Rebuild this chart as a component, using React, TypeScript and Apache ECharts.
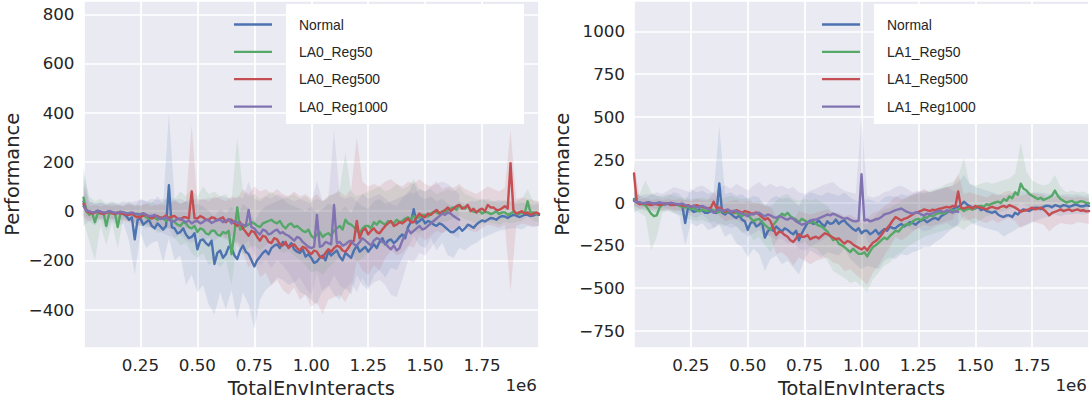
import { useEffect, useRef } from 'react';
import * as echarts from 'echarts';

// x sampling grids (TotalEnvInteracts)
const X_FINE: number[] = Array.from({ length: 161 }, (_, i) => i * 12500); // mean lines
const X_GRID: number[] = Array.from({ length: 81 }, (_, i) => i * 25000); // shaded bands

const X_TICK_STEP = 250000;
const LEFT_Y_STEP = 200;
const RIGHT_Y_STEP = 250;

const LEFT_NAMES = ['Normal', 'LA0_Reg50', 'LA0_Reg500', 'LA0_Reg1000'];
const RIGHT_NAMES = ['Normal', 'LA1_Reg50', 'LA1_Reg500', 'LA1_Reg1000'];

// ---------- Left panel: mean lines ----------
const L_NORMAL = [
  40, 5, -2, -8, -5, 2, -3, -10, -6, 0,
  -4, -12, -8, -3, -12, -20, -35, -25, -115, -35,
  -30, -55, -45, -35, -60, -70, -50, -62, -75, -60,
  105, -65, -70, -90, -85, -70, -95, -110, -105, -90,
  -155, -120, -115, -130, -140, -120, -215, -170, -160, -190,
  -175, -145, -150, -180, -195, -160, -140, -165, -175, -200,
  -225, -200, -185, -170, -160, -175, -150, -140, -135, -150,
  -125, -135, -145, -130, -155, -165, -170, -155, -185, -175,
  -190, -210, -205, -190, -180, -200, -165, -180, -170, -160,
  -185, -200, -170, -180, -190, -160, -140, -165, -155, -145,
  -165, -150, -135, -150, -125, -110, -135, -120, -115, -130,
  -120, -105, -95, -110, -65, -45, 8, -50, -40, -30,
  -50, -40, -45, -55, -60, -50, -55, -65, -75, -85,
  -85, -75, -65, -80, -70, -55, -60, -68, -55, -45,
  -38, -42, -35, -28, -30, -35, -25, -20, -22, -28,
  -20, -15, -18, -24, -20, -14, -15, -20, -18, -12,
  -15,
];
const L_REG50 = [
  55, 0, -15, -5, -45, -8, -10, -5, -60, -10,
  -8, -5, -65, -8, -5, -8, -10, -12, -15, -10,
  -20, -15, -25, -30, -20, -28, -35, -25, -30, -40,
  -25, -35, -45, -55, -60, -45, -50, -65, -70, -60,
  -85, -70, -75, -90, -95, -80, -80, -95, -100, -85,
  -90, -80, -175, -90, 15, -75, -70, -60, -55, -45,
  -50, -60, -65, -50, -45, -40, -35, -45, -50, -40,
  -60, -70, -55, -50, -65, -60, -70, -80, -85, -75,
  -100, -110, -95, -85, -105, -95, -90, -100, -80, -70,
  -60, -75, -35, -50, -55, -65, -80, -90, -70, -60,
  -60, -70, -45, -55, -40, -48, -55, -40, -45, -50,
  -35, -45, -40, -30, -25, -35, -20, -28, -25, -15,
  -15, -22, -10, -2, -5, -12, 0, -5, 5, 10,
  15, 5, 25, 15, 10, 20, 5, -2, -5, 2,
  -10, -3, -5, -12, -8, 0, -12, -5, -5, -15,
  -10, -3, -8, -12, -5, -8, 40, -5, -5, -12,
  -10,
];
const L_REG500 = [
  30, 0, -5, -10, -5, -2, -8, -12, -6, -3,
  -8, -12, -5, -10, -10, -15, -15, -10, -20, -25,
  -25, -18, -15, -22, -30, -20, -20, -28, -25, -18,
  -30, -22, -20, -30, -35, -25, -25, -30, 80, -28,
  -30, -20, -25, -35, -35, -25, -28, -38, -30, -25,
  -45, -35, -35, -50, -60, -45, -70, -85, -100, -80,
  -85, -105, -120, -100, -105, -125, -130, -110, -115, -135,
  -140, -125, -150, -140, -135, -150, -160, -145, -150, -165,
  -175, -160, -165, -185, -190, -170, -155, -165, -150, -140,
  -145, -160, -165, -150, -130, -120, -40, -110, -80, -70,
  -95, -80, -70, -85, -90, -75, -60, -50, -40, -60,
  -55, -45, -50, -40, -30, -45, -45, -25, -10, -20,
  -25, -10, -15, -5, 5, -8, -5, 5, 15, 0,
  10, 20, 25, 10, 15, 25, 0, 10, -5, 5,
  10, 0, 25, 15, 15, 5, 5, 12, 20, 10,
  195, 5, -10, -5, 0, -10, -5, -15, -10, -5,
  -12,
];
const L_REG1000 = [
  20, 2, 0, -5, -3, 0, -2, -6, -4, -1,
  -3, -7, -6, -2, -5, -9, -8, -5, -10, -14,
  -12, -8, -15, -20, -20, -15, -25, -32, -30, -25,
  -35, -42, -40, -32, -30, -38, -45, -38, -50, -42,
  -40, -50, -45, -35, -38, -48, -42, -35, -35, -45,
  -40, -32, -50, -40, -45, -52, -55, -60, 5, -65,
  -70, -85, -95, -75, -80, -95, -90, -80, -75, -90,
  -85, -95, -100, -110, -120, -105, -110, -125, -135, -145,
  -150, -145, -15, -145, -140, -125, -130, -135, 25, -130,
  -125, -140, -135, -125, -120, -135, -140, -125, -110, -120,
  -130, -140, -120, -110, -115, -125, -130, -145, -155, -140,
  -160, -150, -120, -95, -75, -90, -80, -70, -60, -75,
  -70, -60, -50, -40, -30, -20, -10, -15, -5, -10,
  -20, -28, -35,
];

// ---------- Left panel: bands (lower / upper) ----------
const L_NORMAL_LO = [
  -60, -40, -60, -30, -80, -40, -60, -50, -120, -260,
  -90, -150, -130, -120, -210, -110, -200, -180, -300, -260,
  -330, -300, -380, -420, -330, -400, -320, -440, -330, -380,
  -480, -360, -320, -300, -270, -280, -300, -290, -330, -340,
  -360, -380, -320, -300, -340, -360, -310, -340, -260, -300,
  -320, -260, -240, -270, -230, -240, -190, -150, -100, -140,
  -150, -110, -160, -130, -180, -190, -150, -160, -140, -130,
  -110, -100, -90, -80, -75, -70, -70, -75, -60, -65,
  -60,
];
const L_NORMAL_HI = [
  180, 40, 30, 35, 25, 30, 25, 20, 40, 20,
  50, 40, 30, 60, 30, 400, 50, 30, 40, 20,
  30, 20, 0, -20, 10, -10, 20, -20, 30, 10,
  -40, 0, 20, 30, 40, 50, 30, 20, 10, 0,
  20, -10, 10, 30, 20, 0, 20, -10, 40, 20,
  10, 40, 50, 30, 40, 50, 60, 70, 120, 60,
  50, 60, 40, 50, 30, 20, 40, 30, 40, 40,
  50, 40, 40, 45, 40, 35, 30, 35, 30, 25,
  30,
];
const L_REG50_LO = [
  -40, -120, -200, -60, -140, -50, -150, -30, -40, -50,
  -60, -70, -60, -90, -80, -70, -110, -140, -130, -170,
  -190, -170, -220, -200, -230, -200, -300, -120, -180, -150,
  -140, -160, -140, -120, -150, -170, -160, -180, -200, -220,
  -250, -240, -260, -230, -210, -180, -140, -170, -210, -190,
  -170, -140, -130, -150, -130, -110, -120, -90, -80, -90,
  -70, -60, -50, -45, -40, -30, -20, -35, -40, -50,
  -55, -45, -50, -55, -45, -50, -45, -40, -20, -40,
  -45,
];
const L_REG50_HI = [
  150, 60, 40, 50, 30, 40, 30, 30, 25, 30,
  20, 30, 40, 20, 40, 60, 50, 80, 60, 90,
  60, 100, 70, 80, 60, 70, 40, 300, 80, 60,
  70, 50, 60, 80, 60, 50, 60, 70, 50, 60,
  40, 50, 40, 60, 70, 90, 240, 80, 60, 70,
  80, 90, 100, 80, 90, 110, 90, 100, 130, 90,
  80, 90, 70, 80, 90, 80, 100, 70, 60, 50,
  45, 50, 40, 35, 45, 40, 40, 50, 90, 40,
  35,
];
const L_REG500_LO = [
  -30, -40, -30, -35, -30, -35, -30, -40, -45, -50,
  -60, -50, -70, -60, -65, -70, -60, -80, -70, -60,
  -80, -70, -90, -80, -90, -110, -100, -140, -170, -230,
  -200, -270, -250, -300, -280, -320, -340, -310, -360, -340,
  -390, -370, -420, -360, -350, -340, -370, -320, -200, -240,
  -260, -220, -240, -190, -160, -180, -170, -140, -150, -100,
  -120, -100, -80, -90, -70, -75, -60, -70, -80, -85,
  -70, -55, -60, -70, -55, -330, -60, -50, -55, -60,
  -60,
];
const L_REG500_HI = [
  100, 20, 25, 20, 25, 20, 25, 20, 30, 20,
  25, 30, 20, 30, 25, 30, 40, 30, 40, 350,
  40, 50, 40, 60, 50, 40, 60, 50, 90, 70,
  100, 80, 90, 70, 90, 70, 60, 80, 60, 70,
  50, 70, 40, 60, 70, 80, 60, 90, 300, 120,
  100, 110, 100, 120, 130, 110, 100, 120, 110, 130,
  110, 100, 120, 90, 100, 95, 110, 90, 80, 70,
  85, 100, 90, 80, 95, 330, 50, 55, 50, 45,
  40,
];
const L_REG1000_LO = [
  -20, -30, -25, -30, -25, -30, -35, -30, -40, -45,
  -50, -60, -70, -80, -90, -100, -110, -95, -120, -130,
  -115, -120, -110, -120, -105, -115, -130, -125, -140, -120,
  -170, -220, -200, -230, -200, -220, -250, -290, -270, -310,
  -340, -250, -330, -310, -260, -300, -320, -290, -330, -270,
  -310, -290, -280, -300, -340, -350, -280, -200, -210, -170,
  -180, -150, -120, -90, -80, -100, -110,
];
const L_REG1000_HI = [
  120, 40, 30, 35, 30, 35, 30, 40, 35, 40,
  45, 40, 50, 45, 50, 40, 45, 50, 40, 45,
  50, 45, 55, 50, 60, 55, 50, 60, 50, 120,
  50, 40, 60, 50, 70, 60, 50, 40, 50, 40,
  30, 120, 40, 50, 330, 60, 50, 60, 40, 70,
  50, 60, 70, 50, 30, 20, 50, 80, 70, 90,
  80, 100, 110, 120, 110, 90, 70,
];

// ---------- Right panel: mean lines ----------
const R_NORMAL = [
  20, 3, 0, -6, -3, 2, -5, -10, -4, 0,
  -6, -12, -5, -2, -8, -12, -15, -20, -120, -30,
  -40, -55, -50, -40, -45, -60, -60, -50, -55, -62,
  112, -60, -70, -55, -65, -80, -90, -75, -100, -110,
  -160, -120, -110, -140, -130, -110, -205, -170, -150, -165,
  -140, -155, -170, -150, -160, -175, -185, -165, -220, -180,
  -150, -120, -105, -125, -120, -105, -125, -140, -110, -125,
  -120, -100, -125, -110, -105, -125, -140, -155, -165, -150,
  -180, -165, -165, -185, -175, -160, -185, -170, -155, -165,
  -140, -150, -150, -135, -125, -140, -130, -115, -120, -130,
  -115, -105, -100, -115, -105, -95, -90, -100, -80, -70,
  -60, -50, -40, -30, -25, -15, 5, -10, -20, -30,
  -35, -25, -45, -38, -50, -55, -60, -52, -70, -80,
  -85, -75, -75, -85, -60, -70, -50, -40, -45, -50,
  -40, -30, -30, -38, -25, -18, -20, -28, -15, -20,
  -25, -15, -18, -25, -20, -12, -15, -22, -22, -15,
  -20,
];
const R_REG50 = [
  15, 0, -5, -10, -15, -40, -65, -80, -75, -30,
  -10, -5, -8, -15, -12, -8, -20, -25, -30, -22,
  -40, -32, -45, -52, -40, -48, -50, -40, -45, -55,
  -55, -48, -60, -52, -50, -62, -60, -70, -80, -65,
  -70, -90, -110, -100, -95, -115, -130, -145, -160, -130,
  -110, -85, -65, -75, -60, -80, -90, -100, -115, -95,
  -105, -115, -120, -110, -125, -135, -140, -155, -170, -195,
  -220, -210, -240, -250, -260, -275, -290, -270, -285, -300,
  -300, -290, -315, -285, -260, -250, -235, -220, -205, -215,
  -195, -180, -165, -170, -150, -135, -125, -130, -110, -100,
  -95, -105, -85, -90, -75, -80, -70, -62, -60, -65,
  -55, -48, -45, -52, -40, -35, -50, -40, -35, -42,
  -30, -22, -20, -25, -10, -15, -5, 0, 5, -3,
  20, 10, 35, 25, 60, 45, 110, 80, 70, 50,
  40, 30, 20, 28, 15, 22, 30, 40, 70, 40,
  20, 10, 0, 5, 10, -2, 0, 8, 5, -2,
  -5,
];
const R_REG500 = [
  170, 0, -10, -5, -5, -12, -15, -8, -10, -15,
  -12, -6, -8, -14, -15, -10, -10, -18, -20, -15,
  -25, -20, -15, -22, -25, -30, -35, -30, 5, -32,
  -30, -40, -55, -45, -50, -58, -45, -52, -60, -50,
  -55, -62, -65, -58, -70, -85, -100, -90, -110, -150,
  -190, -170, -175, -190, -200, -220, -230, -210, -185, -200,
  -200, -190, -215, -205, -200, -210, -195, -180, -185, -195,
  -205, -215, -210, -225, -240, -225, -230, -245, -255, -265,
  -275, -260, -280, -255, -235, -225, -210, -190, -165, -150,
  -130, -105, -85, -95, -105, -95, -90, -80, -70, -60,
  -55, -48, -40, -45, -50, -42, -45, -38, -35, -30,
  -25, -30, -20, -25, 65, -30, -35, -28, -25, -35,
  -20, -28, -30, -35, -40, -30, -25, -32, -35, -25,
  -20, -28, -15, -22, -30, -40, -55, -48, -45, -38,
  -30, -40, -35, -30, -40, -55, -75, -60, -55, -48,
  -40, -50, -45, -40, -50, -45, -40, -48, -45, -52,
  -50,
];
const R_REG1000 = [
  10, 2, 0, -4, -3, 1, -2, -6, -5, -1,
  -3, -7, -6, -2, -5, -9, -10, -6, -15, -20,
  -25, -18, -30, -25, -20, -28, -35, -45, -60, -50,
  -40, -48, -45, -40, -55, -48, -50, -58, -65, -72,
  -80, -68, -70, -62, -60, -72, -80, -70, -75, -85,
  -90, -80, -85, -95, -100, -90, -95, -110, -120, -130,
  -125, -115, -110, -100, -100, -92, -85, -78, -70, -75,
  -65, -72, -80, -88, -95, -90, -100, -108, -110, -105,
  165, -105, -100, -110, -105, -98, -95, -85, -70, -65,
  -60, -52, -45, -40, -35, -45, -55, -60, -65, -58,
  -60, -70, -75, -65, -70, -62, -55, -50, -50, -55,
  -45, -52, -60, -50, -55,
];

// ---------- Right panel: bands (lower / upper) ----------
const R_NORMAL_LO = [
  -60, -40, -50, -45, -60, -50, -45, -60, -80, -250,
  -120, -140, -120, -160, -150, -130, -200, -180, -240, -260,
  -320, -270, -300, -400, -330, -310, -360, -340, -380, -420,
  -330, -280, -300, -320, -290, -300, -310, -270, -330, -360,
  -390, -370, -380, -390, -340, -320, -330, -300, -310, -290,
  -280, -260, -260, -230, -210, -180, -150, -130, -80, -110,
  -130, -140, -150, -160, -170, -200, -180, -160, -140, -130,
  -120, -100, -90, -80, -70, -80, -70, -70, -65, -70,
  -65,
];
const R_NORMAL_HI = [
  60, 40, 30, 50, 40, 30, 40, 60, 50, 10,
  80, 60, 70, 50, 60, 450, 50, 60, 40, 50,
  20, 40, 30, -20, 20, 40, 20, 30, 10, -20,
  40, 60, 50, 40, 60, 50, 40, 60, 30, 10,
  0, 20, 10, 0, 30, 40, 30, 50, 40, 50,
  60, 70, 60, 70, 80, 90, 100, 120, 160, 110,
  90, 80, 70, 60, 50, 40, 50, 60, 70, 60,
  55, 60, 55, 50, 55, 45, 50, 45, 50, 40,
  45,
];
const R_REG50_LO = [
  -40, -60, -80, -280, -200, -60, -50, -60, -70, -90,
  -100, -110, -100, -120, -110, -130, -140, -120, -140, -180,
  -160, -220, -200, -250, -290, -230, -160, -150, -200, -240,
  -230, -260, -270, -300, -340, -400, -420, -440, -470, -460,
  -490, -520, -450, -410, -370, -350, -310, -290, -260, -240,
  -220, -200, -190, -180, -170, -160, -150, -140, -160, -130,
  -120, -100, -80, -70, -60, -50, -40, -30, 0, -20,
  -40, -50, -50, -40, -20, -40, -50, -45, -50, -45,
  -55,
];
const R_REG50_HI = [
  80, 50, 130, 60, 40, 40, 50, 40, 30, 30,
  20, 25, 30, 20, 25, 20, 30, 40, 30, 20,
  30, 0, 10, -10, -30, 10, 40, 50, 20, 10,
  20, 10, 20, 0, -20, -60, -70, -90, -110, -100,
  -120, -130, -90, -60, -40, -30, -10, 10, 30, 40,
  50, 60, 70, 80, 90, 110, 120, 150, 260, 110,
  100, 110, 120, 110, 120, 130, 140, 170, 350, 180,
  130, 110, 100, 110, 160, 90, 60, 70, 60, 65,
  50,
];
const R_REG500_LO = [
  -20, -40, -35, -45, -40, -45, -40, -50, -45, -55,
  -60, -50, -60, -70, -40, -80, -110, -100, -100, -120,
  -110, -130, -140, -180, -200, -300, -290, -320, -370, -320,
  -340, -360, -340, -330, -320, -350, -360, -400, -390, -420,
  -450, -480, -410, -370, -310, -260, -200, -220, -200, -170,
  -150, -130, -140, -130, -120, -110, -100, -40, -110, -100,
  -90, -110, -120, -100, -120, -100, -90, -110, -150, -130,
  -110, -120, -130, -170, -140, -120, -125, -130, -115, -120,
  -125,
];
const R_REG500_HI = [
  240, 20, 25, 15, 20, 15, 20, 15, 20, 15,
  10, 20, 15, 10, 60, 20, 0, 10, 15, 0,
  10, 0, -5, -20, -20, -80, -60, -80, -100, -50,
  -60, -70, -60, -50, -40, -60, -60, -80, -70, -90,
  -100, -90, -60, -50, -20, 0, 40, 20, 30, 50,
  60, 80, 60, 70, 80, 90, 100, 170, 50, 60,
  50, 40, 30, 50, 40, 60, 70, 50, 40, 50,
  60, 50, 45, 20, 35, 40, 35, 30, 35, 30,
  25,
];
const R_REG1000_LO = [
  -20, -30, -25, -30, -35, -30, -35, -40, -50, -60,
  -80, -90, -70, -100, -150, -120, -130, -150, -140, -170,
  -200, -180, -160, -200, -190, -220, -210, -240, -230, -270,
  -280, -260, -240, -220, -200, -190, -210, -230, -240, -250,
  -100, -230, -240, -220, -180, -160, -130, -120, -140, -160,
  -150, -170, -160, -140, -130, -120, -140, -130,
];
const R_REG1000_HI = [
  60, 40, 50, 45, 60, 50, 70, 90, 80, 70,
  60, 90, 100, 80, 50, 90, 100, 80, 110, 90,
  70, 100, 120, 90, 110, 90, 100, 80, 90, 60,
  50, 70, 80, 100, 110, 120, 90, 70, 60, 50,
  500, 40, 30, 40, 60, 70, 90, 100, 80, 60,
  70, 50, 60, 70, 80, 90, 70, 60,
];

const COLORS = ['#4C72B0', '#55A868', '#C44E52', '#8172B2'];
const TEXT_COLOR = '#262626';
const TICK_FONT = 'DejaVu Sans';

const LEFT_SETS = [
  { mean: L_NORMAL, lo: L_NORMAL_LO, hi: L_NORMAL_HI },
  { mean: L_REG50, lo: L_REG50_LO, hi: L_REG50_HI },
  { mean: L_REG500, lo: L_REG500_LO, hi: L_REG500_HI },
  { mean: L_REG1000, lo: L_REG1000_LO, hi: L_REG1000_HI },
];
const RIGHT_SETS = [
  { mean: R_NORMAL, lo: R_NORMAL_LO, hi: R_NORMAL_HI },
  { mean: R_REG50, lo: R_REG50_LO, hi: R_REG50_HI },
  { mean: R_REG500, lo: R_REG500_LO, hi: R_REG500_HI },
  { mean: R_REG1000, lo: R_REG1000_LO, hi: R_REG1000_HI },
];

function fmtNum(v: number): string {
  return v < 0 ? '\u2212' + Math.abs(v) : String(v);
}

function buildBand(gi: number, lo: number[], hi: number[], color: string, name: string) {
  return {
    type: 'custom',
    name: name + ' band',
    xAxisIndex: gi,
    yAxisIndex: gi,
    silent: true,
    clip: true,
    z: 1,
    data: [[X_GRID[0], lo[0]]],
    renderItem: (_params: any, api: any) => {
      const pts: number[][] = [];
      for (let i = 0; i < hi.length; i++) pts.push(api.coord([X_GRID[i], hi[i]]));
      for (let i = lo.length - 1; i >= 0; i--) pts.push(api.coord([X_GRID[i], lo[i]]));
      return {
        type: 'polygon',
        shape: { points: pts },
        style: { fill: color, opacity: 0.13, stroke: 'none' },
      };
    },
  };
}

function buildLine(gi: number, mean: number[], color: string, name: string) {
  return {
    type: 'line',
    name,
    xAxisIndex: gi,
    yAxisIndex: gi,
    data: mean.map((v, i) => [X_FINE[i], v]),
    showSymbol: false,
    symbol: 'none',
    silent: true,
    clip: true,
    z: 3,
    itemStyle: { color },
    lineStyle: { color, width: 2.4, cap: 'round', join: 'round' },
  };
}

function legendGraphics(boxX: number, lineX1: number, lineX2: number, textX: number, names: string[]) {
  const rows = [24.5, 51.8, 79.2, 106.6];
  const els: any[] = [
    {
      type: 'rect',
      z: 100,
      shape: { x: boxX, y: 4, width: 238, height: 120 },
      style: { fill: '#FFFFFF', stroke: 'none' },
    },
  ];
  names.forEach((n, i) => {
    els.push({
      type: 'line',
      z: 101,
      shape: { x1: lineX1, y1: rows[i], x2: lineX2, y2: rows[i] },
      style: { stroke: COLORS[i], lineWidth: 2.3 },
    });
    els.push({
      type: 'text',
      z: 101,
      style: {
        text: n,
        x: textX,
        y: rows[i],
        fill: TEXT_COLOR,
        font: '13.9px "Liberation Sans", Arial, sans-serif',
        textAlign: 'left',
        align: 'left',
        textVerticalAlign: 'middle',
        verticalAlign: 'middle',
      },
    });
  });
  return els;
}

function exponentText(x: number) {
  return {
    type: 'text',
    z: 100,
    style: {
      text: '1e6',
      x,
      y: 384.5,
      fill: TEXT_COLOR,
      font: '16.7px "DejaVu Sans"',
      textAlign: 'right',
      align: 'right',
      textVerticalAlign: 'middle',
      verticalAlign: 'middle',
    },
  };
}

function buildOption() {
  const grids = [
    { left: 83.5, top: 1, width: 455.5, height: 346.7 },
    { left: 634, top: 1, width: 455, height: 346.7 },
  ].map((g) => ({
    ...g,
    show: true,
    backgroundColor: '#EAEAF2',
    borderWidth: 0,
    containLabel: false,
    outerBoundsMode: 'none',
  }));

  const splitLine = { show: true, lineStyle: { color: '#FFFFFF', width: 1.7 } };

  const xAxes = [0, 1].map((gi) => ({
    type: 'value',
    gridIndex: gi,
    min: 0,
    max: 2000000,
    minInterval: X_TICK_STEP,
    maxInterval: X_TICK_STEP,
    axisLine: { show: false },
    axisTick: { show: false },
    splitLine,
    axisLabel: {
      margin: 9,
      fontFamily: TICK_FONT,
      fontSize: 16.7,
      color: TEXT_COLOR,
      formatter: (v: number) =>
        v <= 0 || v >= 2000000 || v % X_TICK_STEP !== 0 ? '' : (v / 1e6).toFixed(2),
    },
    name: 'TotalEnvInteracts',
    nameLocation: 'middle',
    nameGap: 30,
    nameTextStyle: { fontFamily: TICK_FONT, fontSize: 19.4, color: TEXT_COLOR },
  }));

  const yCfg = [
    { min: -555, max: 854, step: LEFT_Y_STEP },
    { min: -848, max: 1177, step: RIGHT_Y_STEP },
  ];
  const yAxes = yCfg.map((c, gi) => ({
    type: 'value',
    gridIndex: gi,
    min: c.min,
    max: c.max,
    minInterval: c.step,
    maxInterval: c.step,
    axisLine: { show: false },
    axisTick: { show: false },
    splitLine,
    axisLabel: {
      margin: 9,
      fontFamily: TICK_FONT,
      fontSize: 16.7,
      color: TEXT_COLOR,
      formatter: (v: number) => (v % c.step !== 0 ? '' : fmtNum(v)),
    },
    name: 'Performance',
    nameLocation: 'middle',
    nameGap: 62,
    nameTextStyle: { fontFamily: TICK_FONT, fontSize: 19.4, color: TEXT_COLOR },
  }));

  const series: any[] = [];
  [LEFT_SETS, RIGHT_SETS].forEach((sets, gi) => {
    const names = gi === 0 ? LEFT_NAMES : RIGHT_NAMES;
    sets.forEach((s, k) => series.push(buildBand(gi, s.lo, s.hi, COLORS[k], names[k])));
    sets.forEach((s, k) => series.push(buildLine(gi, s.mean, COLORS[k], names[k])));
  });

  return {
    animation: false,
    backgroundColor: '#FFFFFF',
    grid: grids,
    xAxis: xAxes,
    yAxis: yAxes,
    series,
    graphic: [
      ...legendGraphics(286, 234, 272, 299, LEFT_NAMES),
      ...legendGraphics(874, 822, 860, 887, RIGHT_NAMES),
      exponentText(537),
      exponentText(1087),
    ],
  };
}

export default function App() {
  const ref = useRef<HTMLDivElement>(null);
  useEffect(() => {
    document.body.style.margin = '0';
    const chart = echarts.init(ref.current as HTMLDivElement, undefined, { renderer: 'svg' });
    chart.setOption(buildOption() as any);
    return () => chart.dispose();
  }, []);
  return (
    <div
      ref={ref}
      style={{ position: 'absolute', left: 0, top: 0, width: 1091, height: 399 }}
    />
  );
}
